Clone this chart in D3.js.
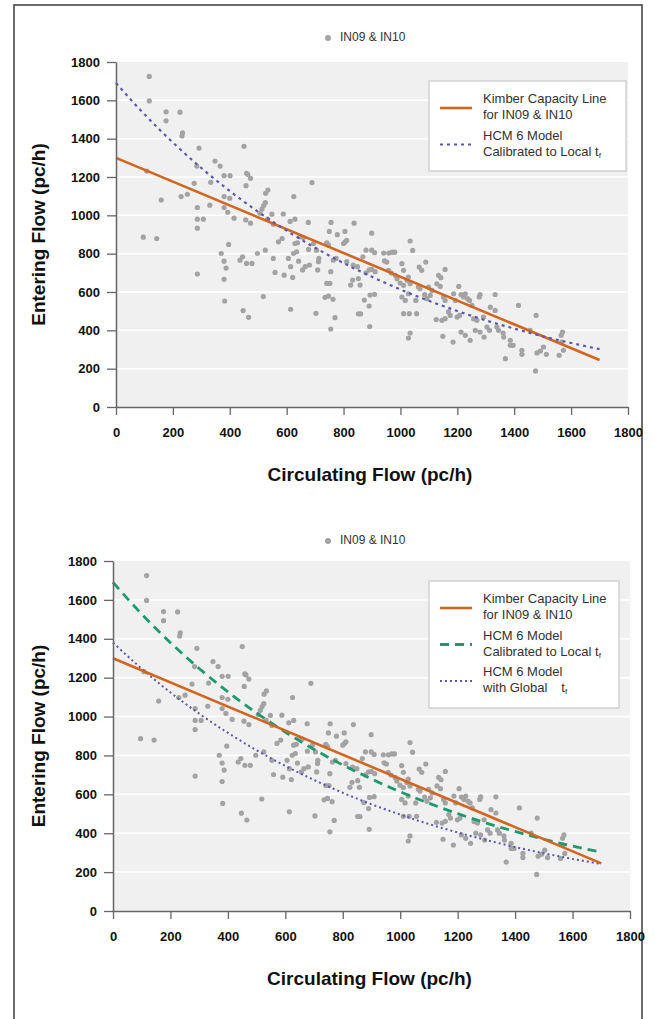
<!DOCTYPE html>
<html><head><meta charset="utf-8">
<script src="https://cdn.jsdelivr.net/npm/d3@7"></script>
<style>body{margin:0;background:#fff}svg{display:block}</style>
</head><body>
<script>
// ---------- data ----------
const circulating = [117,117,176,225,176,234,232,292,450,284,348,366,108,380,401,333,275,459,463,473,457,229,251,159,380,400,330,286,380,393,415,286,307,286,456,473,506,513,519,525,526,534,548,588,533,553,625,689,612,629,676,756,750,778,805,837,899,96,143,
286,370,380,387,380,382,396,436,445,459,478,497,525,518,447,466,553,559,571,584,591,606,614,621,614,624,629,638,635,642,647,659,656,665,680,677,694,705,703,709,712,713,741,747,755,741,752,735,747,763,755,770,764,774,800,806,811,811,825,832,852,858,834,849,852,860,873,890,879,890,892,899,909,893,909,899,911,868,879,
941,959,971,980,944,952,958,968,982,988,1005,1011,999,1011,1023,1028,1034,1034,1043,1005,1017,1028,1011,1031,1034,1028,1057,1054,1063,1069,1066,1075,1089,1085,1093,1105,1099,1111,1128,1140,1134,1142,1157,1151,1157,1126,1146,1157,1149,1169,1175,1185,1187,1193,1205,1213,1199,1208,1213,1228,1222,1228,1236,1243,1251,1245,1257,1269,1263,1280,1280,1277,1292,1294,1304,1313,1316,1333,1333,1339,1345,1361,1363,1369,1386,1396,1386,1415,1427,1427,1456,1475,1477,1480,1492,1513,1503,1558,1565,1570,1567,1573];
const entering = [1725,1597,1540,1538,1493,1430,1414,1351,1360,1257,1283,1257,1231,1207,1207,1172,1167,1219,1214,1193,1155,1098,1110,1080,1098,1089,1053,1041,1041,1016,985,980,980,933,976,959,1011,1032,1051,1066,1115,1132,1006,1007,980,954,1098,1171,968,980,963,963,916,899,916,959,907,886,879,
694,801,761,725,666,553,848,766,784,749,749,801,818,576,503,468,775,702,862,879,688,775,732,676,510,801,853,857,810,761,888,884,715,732,741,822,853,818,489,715,758,775,857,845,706,645,645,572,579,562,407,466,766,775,853,862,870,758,636,662,670,636,740,732,486,486,558,527,700,715,420,818,805,584,588,718,706,784,818,
803,803,808,808,762,756,713,699,687,669,748,713,647,635,661,678,643,866,817,574,556,591,487,487,386,360,487,556,626,617,730,713,756,586,565,582,626,608,643,629,687,675,718,574,556,456,452,461,369,496,478,339,591,556,629,586,469,478,391,374,574,591,565,556,530,348,460,452,400,391,587,574,469,365,417,400,521,504,587,417,400,386,365,252,348,322,322,530,296,275,400,188,478,282,292,275,313,270,374,391,339,296];
const axisTicks = [0,200,400,600,800,1000,1200,1400,1600,1800];
const curveFlow = [0,100,200,300,400,500,600,700,800,900,1000,1100,1200,1300,1400,1500,1600,1700];
const hcmLocal  = [1690,1527,1380,1247,1127,1018,920,831,751,679,613,554,501,452,409,369,334,302];
const hcmGlobal = [1380,1246,1124,1015,916,827,746,674,608,549,496,447,404,365,329,297,268,242];
const kimberFlow = [0,1700];
const kimberEntry = [1300,245];
const scatterName = "IN09 & IN10";
const xTitle = "Circulating Flow (pc/h)";
const yTitle = "Entering Flow (pc/h)";

// ---------- drawing ----------
const FONT = "'Liberation Sans', Arial, Helvetica, sans-serif";
const W = 654, H = 1019;
const svg = d3.select("body").append("svg").attr("width", W).attr("height", H)
  .style("font-family", FONT);

svg.append("rect").attr("x", 14).attr("y", 5).attr("width", 628).attr("height", 1040)
  .attr("fill", "none").attr("stroke", "#3a3a3a").attr("stroke-width", 1.5);

const C_ORANGE = "#d2661f", C_BLUE = "#5b58ad", C_GREEN = "#1d9a6c", C_DOT = "#a3a3a3";

const styles = {
  kimber: {stroke: C_ORANGE, width: 2.6, dash: null},
  localTop: {stroke: C_BLUE, width: 2.2, dash: "3,4"},
  localGreen: {stroke: C_GREEN, width: 2.8, dash: "9,6"},
  global: {stroke: C_BLUE, width: 2, dash: "2,3"}
};

const panels = [
  {x0: 116, x1: 628, yB: 407, yT: 62, legY: 38, xTitleY: 476,
   box: {x: 429, y: 81, w: 197, h: 90},
   entries: [
     {style: "kimber", lines: ["Kimber Capacity Line", "for IN09 & IN10"]},
     {style: "localTop", lines: ["HCM 6 Model", "Calibrated to Local t"], sub: true}
   ],
   series: [{x: kimberFlow, y: kimberEntry, style: "kimber"}, {x: curveFlow, y: hcmLocal, style: "localTop"}]
  },
  {x0: 113, x1: 630, yB: 911, yT: 561, legY: 541, xTitleY: 980,
   box: {x: 429, y: 581, w: 190, h: 127},
   entries: [
     {style: "kimber", lines: ["Kimber Capacity Line", "for IN09 & IN10"]},
     {style: "localGreen", lines: ["HCM 6 Model", "Calibrated to Local t"], sub: true},
     {style: "global", lines: ["HCM 6 Model", "with Global"], sub: true, gap: true}
   ],
   series: [{x: curveFlow, y: hcmLocal, style: "localGreen"}, {x: curveFlow, y: hcmGlobal, style: "global"}, {x: kimberFlow, y: kimberEntry, style: "kimber"}]
  }
];

panels.forEach(p => {
  const x = d3.scaleLinear().domain([0, 1800]).range([p.x0, p.x1]);
  const y = d3.scaleLinear().domain([0, 1800]).range([p.yB, p.yT]);
  const g = svg.append("g");

  g.append("rect").attr("x", p.x0).attr("y", p.yT).attr("width", p.x1 - p.x0).attr("height", p.yB - p.yT)
    .attr("fill", "#f0f0f0");
  g.selectAll(".grid").data(axisTicks.filter(t => t > 0 && t < 1800)).join("line")
    .attr("x1", p.x0).attr("x2", p.x1).attr("y1", d => y(d)).attr("y2", d => y(d))
    .attr("stroke", "#fff").attr("stroke-width", 1.5);

  g.selectAll(".pt").data(circulating.map((c, i) => [c, entering[i]])).join("circle")
    .attr("cx", d => x(d[0])).attr("cy", d => y(d[1])).attr("r", 2.6).attr("fill", C_DOT);

  const line = d3.line().x(d => x(d[0])).y(d => y(d[1])).curve(d3.curveMonotoneX);
  p.series.forEach(s => {
    const st = styles[s.style];
    g.append("path").datum(s.x.map((v, i) => [v, s.y[i]])).attr("d", line)
      .attr("fill", "none").attr("stroke", st.stroke).attr("stroke-width", st.width)
      .attr("stroke-dasharray", st.dash);
  });

  const fmt = d3.format("d");
  const ax = g.append("g").attr("transform", `translate(0,${p.yB})`)
    .call(d3.axisBottom(x).tickValues(axisTicks).tickFormat(fmt).tickSize(8).tickSizeOuter(0).tickPadding(13));
  const ay = g.append("g").attr("transform", `translate(${p.x0},0)`)
    .call(d3.axisLeft(y).tickValues(axisTicks).tickFormat(fmt).tickSize(9).tickSizeOuter(0).tickPadding(7));
  [ax, ay].forEach(a => {
    a.select(".domain").attr("stroke", "#666").attr("stroke-width", 1.5);
    a.selectAll(".tick line").attr("stroke", "#666").attr("stroke-width", 1.3);
    a.selectAll("text").attr("font-family", FONT).attr("font-size", 13).attr("font-weight", "bold").attr("fill", "#111");
  });

  // axis titles
  g.append("text").attr("x", (p.x0 + p.x1) / 2 - 2).attr("y", p.xTitleY).attr("text-anchor", "middle")
    .attr("dominant-baseline", "middle").attr("font-size", 19).attr("font-weight", "bold").attr("fill", "#111")
    .text(xTitle);
  g.append("text").attr("transform", `translate(40,${(p.yT + p.yB) / 2}) rotate(-90)`)
    .attr("text-anchor", "middle").attr("dominant-baseline", "middle").attr("font-size", 19)
    .attr("font-weight", "bold").attr("fill", "#111").text(yTitle);

  // series legend at top
  g.append("circle").attr("cx", 328).attr("cy", p.legY).attr("r", 3).attr("fill", C_DOT);
  g.append("text").attr("x", 340).attr("y", p.legY).attr("dominant-baseline", "middle")
    .attr("font-size", 12).attr("fill", "#333").text(scatterName);

  // line legend box
  const b = p.box;
  g.append("rect").attr("x", b.x).attr("y", b.y).attr("width", b.w).attr("height", b.h)
    .attr("fill", "#fff").attr("stroke", "#c8c8c8").attr("stroke-width", 1.2);
  p.entries.forEach((e, i) => {
    const cy = b.y + 19 + i * 36.5;
    const st = styles[e.style];
    g.append("line").attr("x1", b.x + 11).attr("x2", b.x + 43).attr("y1", cy + 8).attr("y2", cy + 8)
      .attr("stroke", st.stroke).attr("stroke-width", st.width).attr("stroke-dasharray", st.dash);
    e.lines.forEach((ln, j) => {
      const t = g.append("text").attr("x", b.x + 54).attr("y", cy + j * 16).attr("dominant-baseline", "middle")
        .attr("font-size", 13).attr("fill", "#333");
      t.append("tspan").text(ln);
      if (e.sub && j === 1) {
        if (e.gap) t.append("tspan").attr("dx", 14).text("t");
        t.append("tspan").attr("font-size", 8).attr("dy", 3).text("f");
      }
    });
  });
});
</script>
</body></html>
